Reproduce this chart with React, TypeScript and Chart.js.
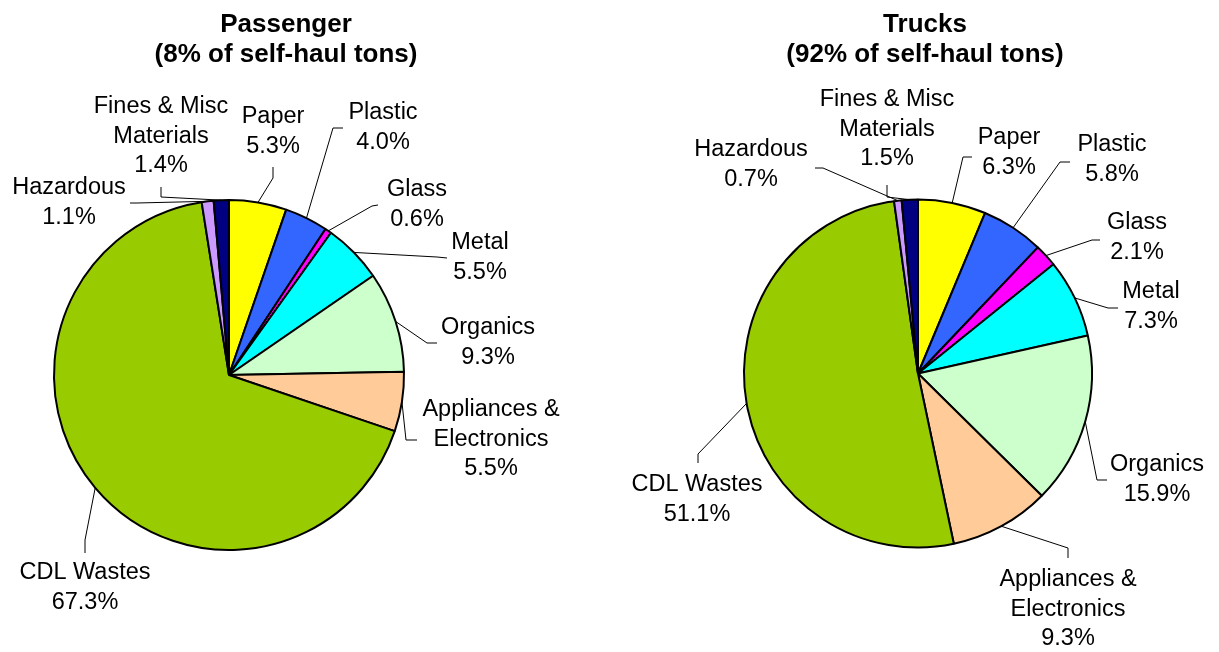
import React, { useEffect, useRef } from "react";
import { Chart, registerables } from "chart.js";

Chart.register(...registerables);

// ---------- data ----------
const categories = [
  "Paper",
  "Plastic",
  "Glass",
  "Metal",
  "Organics",
  "Appliances & Electronics",
  "CDL Wastes",
  "Hazardous",
  "Fines & Misc Materials",
];
const categoryLines = [
  ["Paper"],
  ["Plastic"],
  ["Glass"],
  ["Metal"],
  ["Organics"],
  ["Appliances &", "Electronics"],
  ["CDL Wastes"],
  ["Hazardous"],
  ["Fines & Misc", "Materials"],
];
const passengerValues = [5.3, 4.0, 0.6, 5.5, 9.3, 5.5, 67.3, 1.1, 1.4];
const truckValues = [6.3, 5.8, 2.1, 7.3, 15.9, 9.3, 51.1, 0.7, 1.5];
const passengerTitle = ["Passenger", "(8% of self-haul tons)"];
const truckTitle = ["Trucks", "(92% of self-haul tons)"];

// ---------- styles / layout ----------
const sliceColors = [
  "#FFFF00",
  "#3366FF",
  "#FF00FF",
  "#00FFFF",
  "#CCFFCC",
  "#FFCC99",
  "#99CC00",
  "#CC99FF",
  "#000080",
];

// label layout relative to pie centre: [textX, textY(first line centre), attachX, attachY, elbowX, elbowY]
const passengerLabelLayout = [
  [44, -258, 44, -208, 44, -197],
  [154, -262, 114, -247, 104, -247],
  [188, -185, 149, -170, 143, -169],
  [251, -132, 218, -117, 208, -118],
  [259, -47, 208, -32, 198, -32],
  [262, 35, 188, 65, 177, 65],
  [-144, 198, -144, 178, -144, 165],
  [-160, -187, -99, -172, -92, -172],
  [-68, -268, -68, -188, -68, -178],
];
const truckLabelLayout = [
  [91, -235.5, 54, -216.5, 45, -216.5],
  [194, -228.5, 152, -211.5, 142, -211.5],
  [219, -150.5, 182, -133.5, 174, -133.5],
  [233, -81.5, 200, -65.5, 190, -65.5],
  [239, 91.5, 189, 106.5, 179, 106.5],
  [150, 206.5, 150, 184.5, 150, 174.5],
  [-221, 111.5, -220, 89.5, -220, 80.5],
  [-167, -223.5, -103, -205.5, -95, -205.5],
  [-31, -273.5, -31, -188.5, -31, -176.5],
];

const LABEL_FONT = '23.5px "Liberation Sans", Arial, sans-serif';
const TITLE_FONT = 'bold 26px "Liberation Sans", Arial, sans-serif';
const LINE_H = 29.5;

const labelPlugin = {
  id: "pieLabels",
  afterDatasetsDraw(chart: any, _args: any, opts: any) {
    const ctx = chart.ctx;
    const meta = chart.getDatasetMeta(0);
    const values = chart.data.datasets[0].data as number[];
    const layout = opts.layout as number[][];
    ctx.save();
    // title
    ctx.fillStyle = "#000";
    ctx.font = TITLE_FONT;
    ctx.textAlign = "center";
    ctx.textBaseline = "alphabetic";
    (opts.title as string[]).forEach((t: string, k: number) => {
      ctx.fillText(t, opts.titleX, opts.titleY + k * 29.5);
    });
    // labels
    ctx.font = LABEL_FONT;
    ctx.textBaseline = "middle";
    meta.data.forEach((arc: any, i: number) => {
      const p = arc.getProps(["x", "y", "startAngle", "endAngle", "outerRadius"], true);
      const mid = (p.startAngle + p.endAngle) / 2;
      const ax = p.x + Math.cos(mid) * p.outerRadius;
      const ay = p.y + Math.sin(mid) * p.outerRadius;
      const L = layout[i];
      ctx.strokeStyle = "#000";
      ctx.lineWidth = 1;
      ctx.beginPath();
      ctx.moveTo(ax, ay);
      ctx.lineTo(p.x + L[4], p.y + L[5]);
      ctx.lineTo(p.x + L[2], p.y + L[3]);
      ctx.stroke();
      const lines = [...categoryLines[i], values[i].toFixed(1) + "%"];
      lines.forEach((s, k) => {
        ctx.fillText(s, p.x + L[0], p.y + L[1] + k * LINE_H);
      });
    });
    ctx.restore();
  },
};

function PieChart(props: {
  values: number[];
  title: string[];
  layout: number[][];
  width: number;
  padding: { left: number; right: number; top: number; bottom: number };
  titleX: number;
  titleY: number;
  left: number;
}) {
  const ref = useRef<HTMLCanvasElement | null>(null);
  useEffect(() => {
    if (!ref.current) return;
    const chart = new Chart(ref.current, {
      type: "pie",
      data: {
        labels: categories,
        datasets: [
          {
            data: props.values,
            backgroundColor: sliceColors,
            borderColor: "#000",
            borderWidth: 2,
            hoverOffset: 0,
            offset: 0,
          },
        ],
      },
      options: {
        responsive: false,
        animation: false,
        devicePixelRatio: 1,
        layout: { padding: props.padding },
        events: [],
        plugins: {
          legend: { display: false },
          tooltip: { enabled: false },
          title: { display: false },
          pieLabels: {
            layout: props.layout,
            title: props.title,
            titleX: props.titleX,
            titleY: props.titleY,
          },
        } as any,
      },
      plugins: [labelPlugin],
    });
    return () => chart.destroy();
  }, []);
  return (
    <canvas
      ref={ref}
      width={props.width}
      height={652}
      style={{ position: "absolute", left: props.left, top: 0, width: props.width, height: 652 }}
    />
  );
}

export default function App() {
  return (
    <div style={{ position: "absolute", left: 0, top: 0, width: 1219, height: 652, background: "#fff" }}>
      <PieChart
        values={passengerValues}
        title={passengerTitle}
        layout={passengerLabelLayout}
        width={610}
        left={0}
        padding={{ left: 53, right: 205, top: 199, bottom: 101 }}
        titleX={286}
        titleY={32}
      />
      <PieChart
        values={truckValues}
        title={truckTitle}
        layout={truckLabelLayout}
        width={609}
        left={610}
        padding={{ left: 133, right: 126, top: 198.5, bottom: 103.5 }}
        titleX={315}
        titleY={32}
      />
    </div>
  );
}
